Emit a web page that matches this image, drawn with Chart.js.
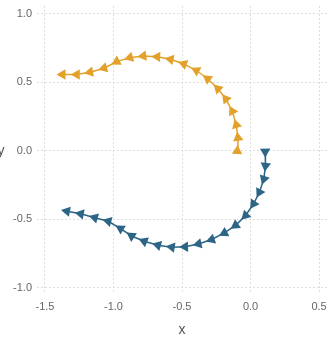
<!DOCTYPE html>
<html>
<head>
<meta charset="utf-8">
<script src="https://cdn.jsdelivr.net/npm/chart.js@4/dist/chart.umd.min.js"></script>
<style>
html,body{margin:0;padding:0;background:#fff;}
#wrap{width:333px;height:339px;position:relative;}
</style>
</head>
<body>
<div id="wrap"><canvas id="c" width="333" height="339"></canvas></div>
<script>
const orangeX = [-0.097, -0.092, -0.104, -0.133, -0.180, -0.238, -0.313, -0.395, -0.487, -0.584, -0.681, -0.783, -0.880, -0.977, -1.069, -1.171, -1.268, -1.372];
const orangeY = [0.000, 0.096, 0.190, 0.290, 0.380, 0.454, 0.527, 0.587, 0.635, 0.669, 0.688, 0.693, 0.681, 0.652, 0.604, 0.575, 0.558, 0.558];
const blueX = [0.107, 0.109, 0.097, 0.065, 0.022, -0.036, -0.109, -0.191, -0.284, -0.380, -0.478, -0.575, -0.676, -0.776, -0.868, -0.948, -1.038, -1.137, -1.239, -1.340];
const blueY = [-0.005, -0.109, -0.205, -0.302, -0.386, -0.471, -0.543, -0.599, -0.647, -0.679, -0.700, -0.703, -0.688, -0.659, -0.621, -0.567, -0.514, -0.488, -0.459, -0.440];
const xTicks = [-1.5, -1.0, -0.5, 0.0, 0.5];
const yTicks = [-1.0, -0.5, 0.0, 0.5, 1.0];
const xTitle = 'x';
const yTitle = 'y';

function pts(xs, ys){ return xs.map((x,i)=>({x:x, y:ys[i]})); }
function rot(ctx){
  const d = ctx.dataset.data; const i = ctx.dataIndex; const n = d.length;
  let a, b;
  if (i < n-1){ a = d[i]; b = d[i+1]; } else { a = d[i-1]; b = d[i]; }
  return Math.atan2(b.x - a.x, b.y - a.y) * 180 / Math.PI;
}
const ORANGE = '#E2A12A';
const BLUE = '#2C6585';
const FONT = '"Liberation Sans", Arial, sans-serif';
const gridOpts = {color:'#dedede', lineWidth:1, drawTicks:false};

const yTitlePlugin = {
  id:'yTitle',
  afterDraw(chart){
    const c = chart.ctx; const ys = chart.scales.y;
    c.save();
    c.font = '14px ' + FONT;
    c.fillStyle = '#555';
    c.textAlign = 'center'; c.textBaseline = 'middle';
    c.fillText(yTitle, 1, ys.getPixelForValue(0));
    c.restore();
  }
};

new Chart(document.getElementById('c'), {
  type:'scatter',
  data:{datasets:[
    {data:pts(orangeX, orangeY), showLine:true, borderColor:ORANGE, backgroundColor:ORANGE, borderWidth:1.5,
     pointStyle:'triangle', pointRadius:6, pointBorderWidth:0, pointRotation:rot},
    {data:pts(blueX, blueY), showLine:true, borderColor:BLUE, backgroundColor:BLUE, borderWidth:1.5,
     pointStyle:'triangle', pointRadius:6, pointBorderWidth:0, pointRotation:rot}
  ]},
  options:{
    responsive:false, animation:false, devicePixelRatio:1,
    layout:{padding:{top:4,right:0,left:0,bottom:0}},
    plugins:{legend:{display:false}, tooltip:{enabled:false}},
    scales:{
      x:{type:'linear', min:-1.558, max:0.558,
         afterBuildTicks(s){ s.ticks = xTicks.map(v=>({value:v})); },
         afterFit(s){ s.height = 47; s.paddingLeft = 0; s.paddingRight = 0; },
         grid:Object.assign({}, gridOpts),
         border:{display:false, dash:[2,2]},
         ticks:{color:'#666', font:{size:11, family:FONT}, padding:8, maxRotation:0,
                callback:v=>v.toFixed(1)},
         title:{display:true, text:xTitle, color:'#555', font:{size:14, family:FONT}, padding:{top:0,bottom:0}}
      },
      y:{type:'linear', min:-1.03, max:1.058,
         afterBuildTicks(s){ s.ticks = yTicks.map(v=>({value:v})); },
         afterFit(s){ s.width = 37; s.paddingTop = 0; s.paddingBottom = 0; },
         grid:Object.assign({}, gridOpts),
         border:{display:false, dash:[2,2]},
         ticks:{color:'#666', font:{size:11, family:FONT}, padding:5,
                callback:v=>v.toFixed(1)}
      }
    }
  },
  plugins:[yTitlePlugin]
});
</script>
</body>
</html>
